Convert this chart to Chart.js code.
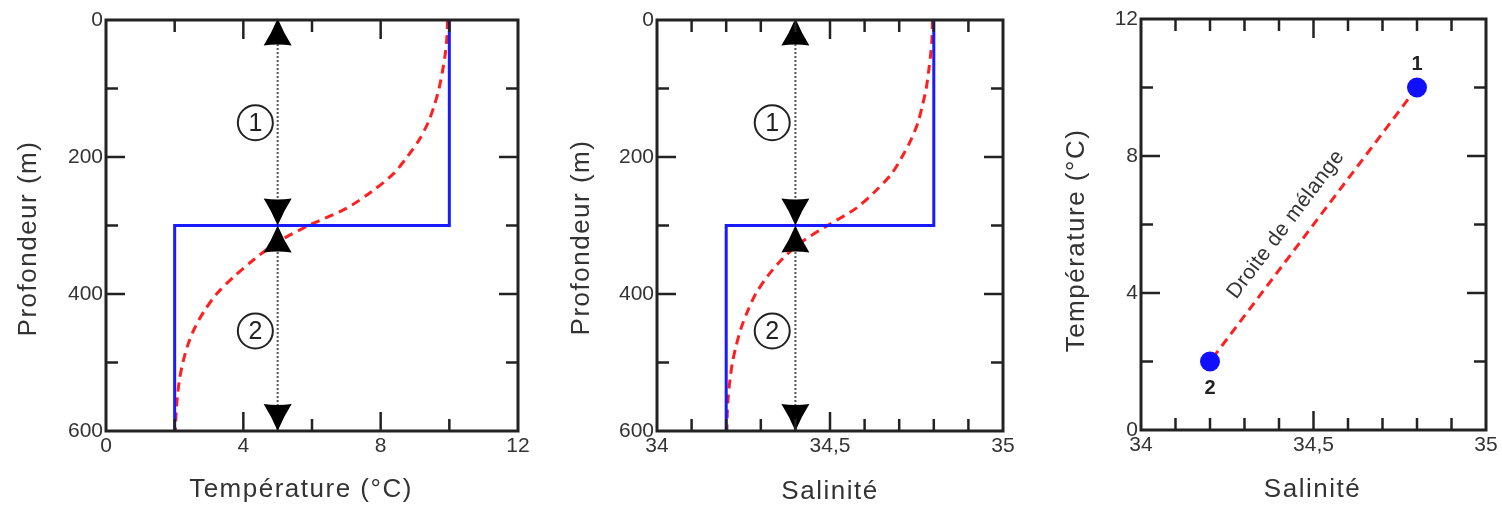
<!DOCTYPE html>
<html>
<head>
<meta charset="utf-8">
<script src="https://cdn.jsdelivr.net/npm/chart.js@4.4.1/dist/chart.umd.min.js"></script>
<style>
  html, body { margin: 0; padding: 0; background: #fff; }
  #wrap { position: relative; width: 1502px; height: 509px; }
  .panel { position: absolute; top: 0; height: 509px; }
</style>
</head>
<body>
<div id="wrap">
  <div class="panel" style="left:0;width:540px"><canvas id="tempChart"></canvas></div>
  <div class="panel" style="left:540px;width:490px"><canvas id="salChart"></canvas></div>
  <div class="panel" style="left:1030px;width:472px"><canvas id="tsChart"></canvas></div>
</div>
<script>
// two-layer profile (blue step)
const stepDepth = [0, 300, 300, 600];
const stepTemp = [10, 10, 2, 2];
const stepSal = [34.8, 34.8, 34.2, 34.2];

// mixed profile (red dashed), read every 25 m
const mixDepth = [0, 25, 50, 75, 100, 125, 150, 175, 200, 225, 250, 275, 300,
  325, 350, 375, 400, 425, 450, 475, 500, 525, 550, 575, 600];
const mixTemp = [9.95, 9.93, 9.88, 9.80, 9.70, 9.56, 9.38, 9.12, 8.77, 8.36, 7.75, 7.0, 5.9,
  4.97, 4.3, 3.72, 3.22, 2.86, 2.58, 2.38, 2.24, 2.14, 2.08, 2.04, 2.02];
const mixSal = [34.796, 34.795, 34.791, 34.785, 34.778, 34.767, 34.754, 34.734, 34.708, 34.677, 34.631, 34.575, 34.493,
  34.415, 34.36, 34.318, 34.285, 34.262, 34.243, 34.229, 34.218, 34.211, 34.206, 34.203, 34.202];

// layer thickness arrows and layer numbers
const arrowTemp = 5;
const arrowSal = 34.4;
const arrowDepth = [0, 300, 600];
const layerNames = ['1', '2'];
const layerDepth = [150, 454];
const layerTemp = 4.35;
const layerSal = 34.333;

// T-S diagram
const endNames = ['1', '2'];
const endSal = [34.8, 34.2];
const endTemp = [10, 2];
const mixLineLabel = 'Droite de mélange';
const mixLabelSal = 34.42;
const mixLabelTemp = 6.0;

const tempTicks = [0, 4, 8, 12];
const depthTicks = [0, 200, 400, 600];
const salTicks = [34, 34.5, 35];
const tsTempTicks = [0, 4, 8, 12];

const FONT = '"Liberation Sans", Arial, Helvetica, sans-serif';
const INK = '#222';

function pts(xs, ys) {
  return xs.map((v, i) => ({ x: v, y: ys[i] }));
}
function isIn(list, v) {
  return list.some(t => Math.abs(t - v) < 1e-6);
}
function fmt(v) {
  return String(Math.round(v * 10) / 10).replace('.', ',');
}

function seg(ctx, x1, y1, x2, y2) {
  ctx.beginPath();
  ctx.moveTo(x1, y1);
  ctx.lineTo(x2, y2);
  ctx.stroke();
}

// frame, inward ticks on four sides, axis titles
const framePlugin = {
  id: 'frame',
  afterDraw(chart, args, o) {
    const { ctx, chartArea: a, scales: { x, y } } = chart;
    ctx.save();
    ctx.strokeStyle = INK;
    ctx.lineWidth = 2.5;
    x.ticks.forEach(t => {
      const px = x.getPixelForValue(t.value);
      if (Math.abs(px - a.left) < 2 || Math.abs(px - a.right) < 2) return;
      const len = isIn(o.xMajor, t.value) ? 19 : 12;
      seg(ctx, px, a.bottom, px, a.bottom - len);
      seg(ctx, px, a.top, px, a.top + len);
    });
    y.ticks.forEach(t => {
      const py = y.getPixelForValue(t.value);
      if (Math.abs(py - a.top) < 2 || Math.abs(py - a.bottom) < 2) return;
      const len = isIn(o.yMajor, t.value) ? 19 : 12;
      seg(ctx, a.left, py, a.left + len, py);
      seg(ctx, a.right, py, a.right - len, py);
    });
    ctx.lineWidth = 3;
    ctx.strokeRect(a.left, a.top, a.right - a.left, a.bottom - a.top);

    ctx.fillStyle = '#333';
    ctx.font = '26px ' + FONT;
    if ('letterSpacing' in ctx) ctx.letterSpacing = '1.5px';
    ctx.textAlign = 'center';
    ctx.textBaseline = 'middle';
    ctx.fillText(o.xTitle, (a.left + a.right) / 2 + o.xShift, a.bottom + o.xGap);
    ctx.translate(a.left - o.yGap, (a.top + a.bottom) / 2 + o.yShift);
    ctx.rotate(-Math.PI / 2);
    ctx.fillText(o.yTitle, 0, 0);
    ctx.restore();
  }
};

function dart(ctx, x, tipY, dir) {
  // dir = -1: points up, dir = 1: points down
  const h = 27, w = 14;
  const by = tipY - dir * h;
  ctx.beginPath();
  ctx.moveTo(x, tipY);
  ctx.quadraticCurveTo(x - w * 0.45, tipY - dir * h * 0.55, x - w, by);
  ctx.quadraticCurveTo(x, by + dir * 2, x + w, by);
  ctx.quadraticCurveTo(x + w * 0.45, tipY - dir * h * 0.55, x, tipY);
  ctx.closePath();
  ctx.fill();
}

// arrows and circled layer numbers on profile panels
const layersPlugin = {
  id: 'layers',
  afterDatasetsDraw(chart, args, o) {
    const { ctx, scales: { x, y } } = chart;
    ctx.save();
    ctx.fillStyle = '#000';
    const ax = x.getPixelForValue(o.arrowX);
    dart(ctx, ax, y.getPixelForValue(arrowDepth[0]) - 1.5, -1);
    dart(ctx, ax, y.getPixelForValue(arrowDepth[1]), 1);
    dart(ctx, ax, y.getPixelForValue(arrowDepth[1]), -1);
    dart(ctx, ax, y.getPixelForValue(arrowDepth[2]), 1);

    const cx = x.getPixelForValue(o.labelX);
    ctx.strokeStyle = INK;
    ctx.lineWidth = 2;
    ctx.font = '25px ' + FONT;
    ctx.textAlign = 'center';
    ctx.textBaseline = 'middle';
    ctx.fillStyle = INK;
    layerNames.forEach((n, i) => {
      const cy = y.getPixelForValue(layerDepth[i]);
      ctx.beginPath();
      ctx.arc(cx, cy, 17.5, 0, Math.PI * 2);
      ctx.stroke();
      ctx.fillText(n, cx, cy + 1);
    });
    ctx.restore();
  }
};

// point numbers and rotated mixing-line label on T-S panel
const tsPlugin = {
  id: 'tsLabels',
  afterDatasetsDraw(chart) {
    const { ctx, scales: { x, y } } = chart;
    ctx.save();
    ctx.fillStyle = '#222';
    ctx.font = 'bold 20px ' + FONT;
    ctx.textAlign = 'center';
    ctx.textBaseline = 'middle';
    const p1 = { x: x.getPixelForValue(endSal[0]), y: y.getPixelForValue(endTemp[0]) };
    const p2 = { x: x.getPixelForValue(endSal[1]), y: y.getPixelForValue(endTemp[1]) };
    ctx.fillText(endNames[0], p1.x, p1.y - 23);
    ctx.fillText(endNames[1], p2.x, p2.y + 27);

    const ang = Math.atan2(p1.y - p2.y, p1.x - p2.x);
    ctx.translate(x.getPixelForValue(mixLabelSal), y.getPixelForValue(mixLabelTemp));
    ctx.rotate(ang);
    ctx.font = '21px ' + FONT;
    if ('letterSpacing' in ctx) ctx.letterSpacing = '0.5px';
    ctx.fillStyle = '#333';
    ctx.fillText(mixLineLabel, 0, 0);
    ctx.restore();
  }
};

function axis(min, max, step, labels, opts) {
  return Object.assign({
    type: 'linear',
    min: min,
    max: max,
    grid: { display: false, drawTicks: false },
    border: { display: false },
    ticks: {
      stepSize: step,
      autoSkip: false,
      maxRotation: 0,
      color: '#333',
      font: { family: FONT, size: 21 },
      callback: v => (isIn(labels, v) ? fmt(v) : '')
    }
  }, opts);
}

function baseOptions(pad) {
  return {
    responsive: true,
    maintainAspectRatio: false,
    animation: false,
    events: [],
    layout: { padding: pad }
  };
}

Chart.defaults.font.family = FONT;

// Panel 1: temperature profile
new Chart(document.getElementById('tempChart'), {
  type: 'scatter',
  data: {
    datasets: [
      { data: pts(stepTemp, stepDepth), showLine: true, borderColor: '#1a1aff', borderWidth: 3, pointRadius: 0, tension: 0 },
      { data: pts(mixTemp, mixDepth), showLine: true, borderColor: '#ff1f1f', borderWidth: 3, borderDash: [9, 6], pointRadius: 0, tension: 0.3 },
      { data: pts([arrowTemp, arrowTemp], [arrowDepth[0], arrowDepth[2]]), showLine: true, borderColor: '#555', borderWidth: 2, borderDash: [2, 2], pointRadius: 0 }
    ]
  },
  options: Object.assign(baseOptions({ left: 0, right: 22, top: 20, bottom: 0 }), {
    scales: {
      x: axis(0, 12, 2, tempTicks, { afterFit: s => { s.height = 78; } }),
      y: axis(0, 600, 100, depthTicks, { reverse: true, afterFit: s => { s.width = 106; } })
    },
    plugins: {
      legend: { display: false }, tooltip: { enabled: false },
      frame: { xMajor: tempTicks, yMajor: depthTicks, xTitle: 'Température (°C)', yTitle: 'Profondeur (m)', xShift: -11, xGap: 59, yGap: 77, yShift: 13 },
      layers: { arrowX: arrowTemp, labelX: layerTemp }
    }
  }),
  plugins: [framePlugin, layersPlugin]
});

// Panel 2: salinity profile
new Chart(document.getElementById('salChart'), {
  type: 'scatter',
  data: {
    datasets: [
      { data: pts(stepSal, stepDepth), showLine: true, borderColor: '#1a1aff', borderWidth: 3, pointRadius: 0, tension: 0 },
      { data: pts(mixSal, mixDepth), showLine: true, borderColor: '#ff1f1f', borderWidth: 3, borderDash: [9, 6], pointRadius: 0, tension: 0.3 },
      { data: pts([arrowSal, arrowSal], [arrowDepth[0], arrowDepth[2]]), showLine: true, borderColor: '#555', borderWidth: 2, borderDash: [2, 2], pointRadius: 0 }
    ]
  },
  options: Object.assign(baseOptions({ left: 0, right: 27, top: 20, bottom: 0 }), {
    scales: {
      x: axis(34, 35, 0.1, salTicks, { afterFit: s => { s.height = 78; } }),
      y: axis(0, 600, 100, depthTicks, { reverse: true, afterFit: s => { s.width = 117; } })
    },
    plugins: {
      legend: { display: false }, tooltip: { enabled: false },
      frame: { xMajor: salTicks, yMajor: depthTicks, xTitle: 'Salinité', yTitle: 'Profondeur (m)', xShift: 0, xGap: 61, yGap: 75, yShift: 12 },
      layers: { arrowX: arrowSal, labelX: layerSal }
    }
  }),
  plugins: [framePlugin, layersPlugin]
});

// Panel 3: T-S diagram
new Chart(document.getElementById('tsChart'), {
  type: 'scatter',
  data: {
    datasets: [
      { data: pts(endSal, endTemp), backgroundColor: '#1010ff', borderWidth: 0, pointRadius: 10 },
      { data: pts(endSal, endTemp), showLine: true, borderColor: '#ff1f1f', borderWidth: 3, borderDash: [9, 6], pointRadius: 0 }
    ]
  },
  options: Object.assign(baseOptions({ left: 0, right: 16, top: 19, bottom: 0 }), {
    scales: {
      x: axis(34, 35, 0.1, salTicks, { afterFit: s => { s.height = 79; } }),
      y: axis(0, 12, 2, tsTempTicks, { afterFit: s => { s.width = 111; } })
    },
    plugins: {
      legend: { display: false }, tooltip: { enabled: false },
      frame: { xMajor: salTicks, yMajor: tsTempTicks, xTitle: 'Salinité', yTitle: 'Température (°C)', xShift: -1, xGap: 60, yGap: 64, yShift: 16 }
    }
  }),
  plugins: [framePlugin, tsPlugin]
});
</script>
</body>
</html>
